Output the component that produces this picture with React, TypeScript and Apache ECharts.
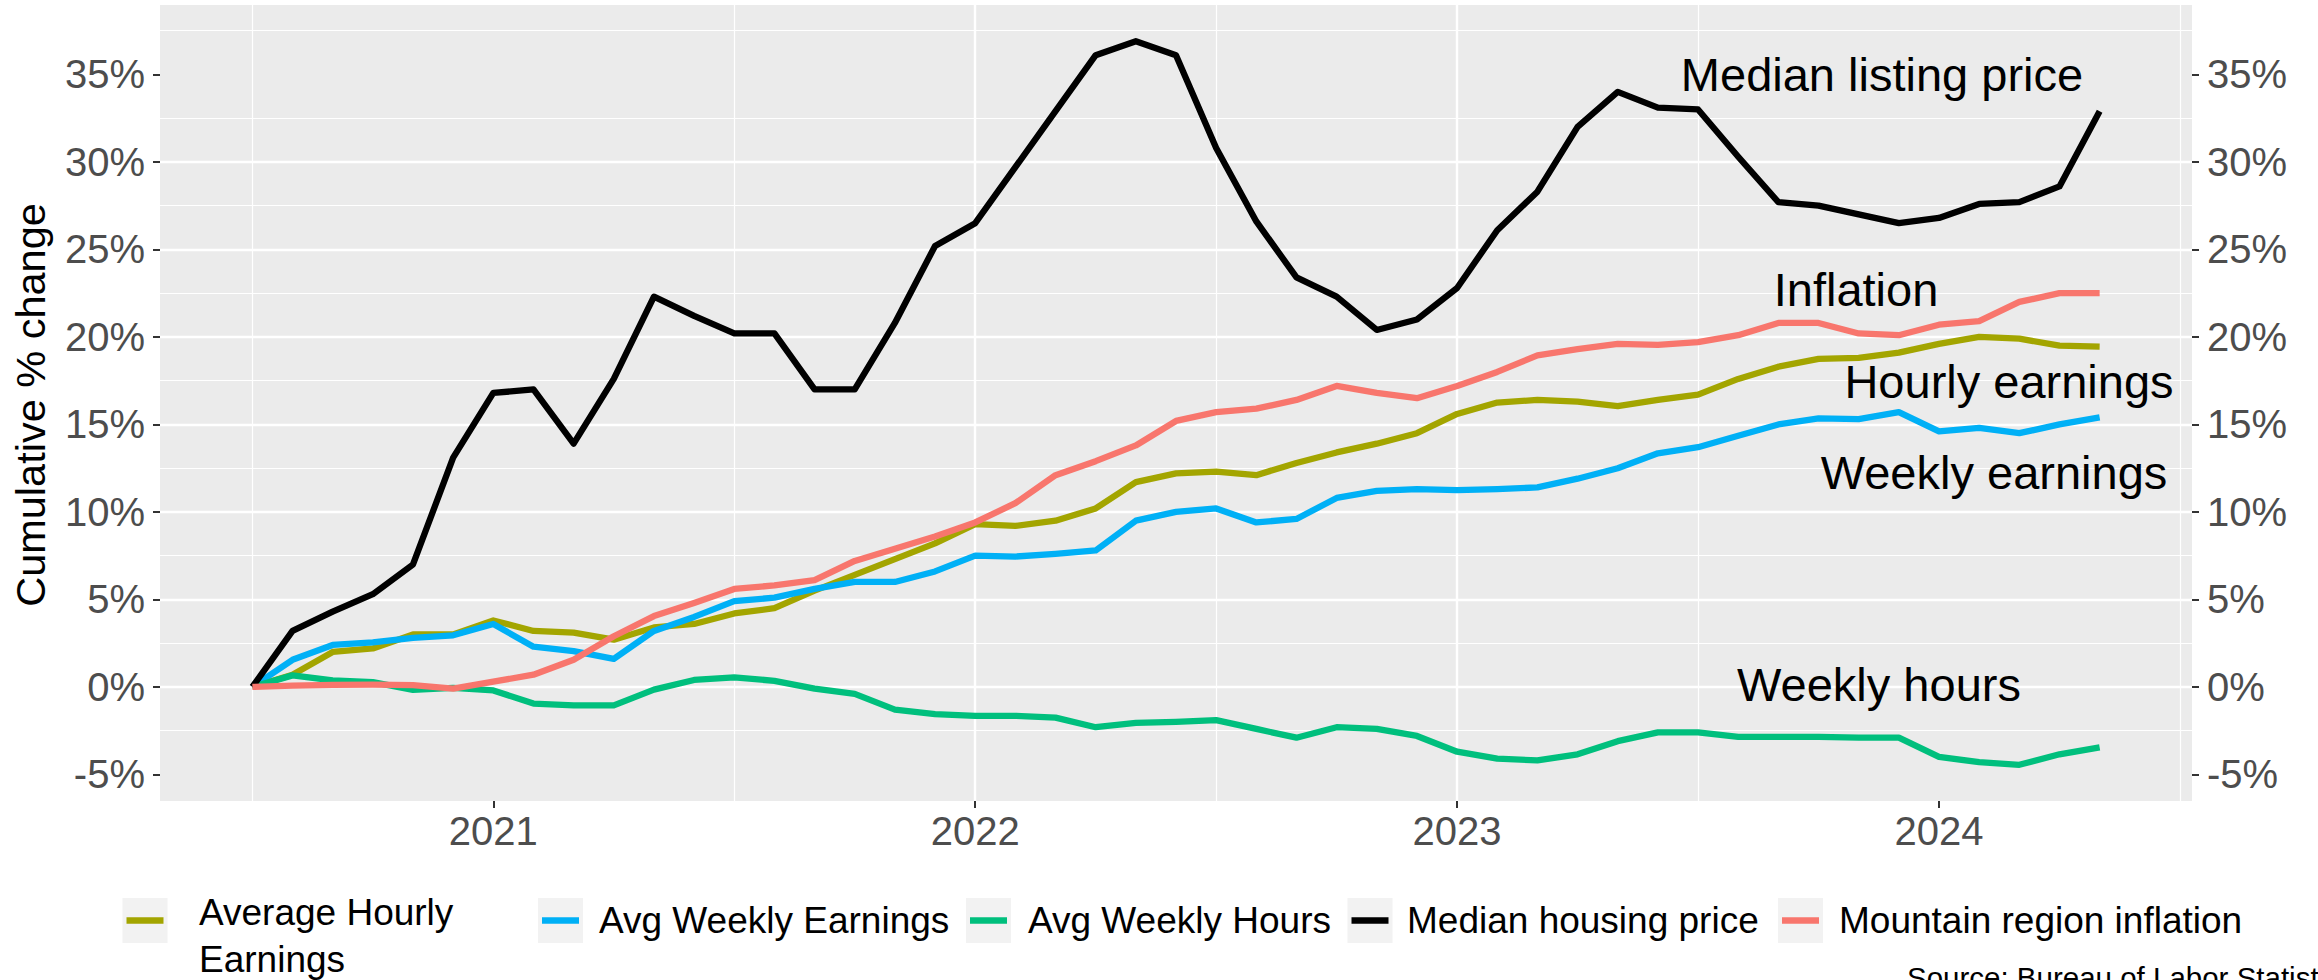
import React, { useEffect, useRef } from "react";
import * as echarts from "echarts";

// ---------- DATA ----------
const months: string[] = [
  "2020-07", "2020-08", "2020-09", "2020-10", "2020-11", "2020-12",
  "2021-01", "2021-02", "2021-03", "2021-04", "2021-05", "2021-06",
  "2021-07", "2021-08", "2021-09", "2021-10", "2021-11", "2021-12",
  "2022-01", "2022-02", "2022-03", "2022-04", "2022-05", "2022-06",
  "2022-07", "2022-08", "2022-09", "2022-10", "2022-11", "2022-12",
  "2023-01", "2023-02", "2023-03", "2023-04", "2023-05", "2023-06",
  "2023-07", "2023-08", "2023-09", "2023-10", "2023-11", "2023-12",
  "2024-01", "2024-02", "2024-03", "2024-04", "2024-05",
];

const hourlyEarnings: number[] = [
  0, 0.7, 2.0, 2.2, 3.0, 3.0, 3.8, 3.2, 3.1, 2.7, 3.4, 3.6,
  4.2, 4.5, 5.5, 6.4, 7.3, 8.2, 9.3, 9.2, 9.5, 10.2, 11.7, 12.2,
  12.3, 12.1, 12.8, 13.4, 13.9, 14.5, 15.6, 16.25, 16.4, 16.3, 16.05, 16.4,
  16.7, 17.6, 18.3, 18.75, 18.8, 19.1, 19.6, 20.0, 19.9, 19.5, 19.45,
];

const weeklyEarnings: number[] = [
  0, 1.55, 2.4, 2.55, 2.8, 2.95, 3.6, 2.3, 2.05, 1.6, 3.2, 4.0,
  4.9, 5.1, 5.6, 6.0, 6.0, 6.6, 7.5, 7.45, 7.6, 7.8, 9.5, 10.0,
  10.2, 9.4, 9.6, 10.8, 11.2, 11.3, 11.25, 11.3, 11.4, 11.9, 12.5, 13.35,
  13.7, 14.35, 15.0, 15.35, 15.3, 15.7, 14.6, 14.8, 14.5, 15.0, 15.4,
];

const weeklyHours: number[] = [
  0, 0.66, 0.37, 0.27, -0.17, -0.05, -0.2, -0.95, -1.05, -1.05, -0.15, 0.4,
  0.55, 0.35, -0.1, -0.4, -1.3, -1.55, -1.65, -1.65, -1.75, -2.3, -2.05, -2.0,
  -1.9, -2.4, -2.9, -2.3, -2.4, -2.8, -3.7, -4.1, -4.2, -3.85, -3.1, -2.6,
  -2.6, -2.85, -2.85, -2.85, -2.9, -2.9, -4.0, -4.3, -4.45, -3.85, -3.45,
];

const housingPrice: number[] = [
  0, 3.2, 4.3, 5.3, 7.0, 13.1, 16.8, 17.0, 13.9, 17.6, 22.3, 21.2,
  20.2, 20.2, 17.0, 17.0, 20.8, 25.2, 26.5, 29.7, 32.9, 36.1, 36.9, 36.1,
  30.8, 26.6, 23.4, 22.3, 20.4, 21.0, 22.8, 26.1, 28.3, 32.0, 34.0, 33.1,
  33.0, 30.3, 27.7, 27.5, 27.0, 26.5, 26.8, 27.6, 27.7, 28.6, 32.9,
];

const inflation: number[] = [
  0, 0.08, 0.12, 0.13, 0.1, -0.1, 0.3, 0.7, 1.55, 2.9, 4.05, 4.8,
  5.6, 5.8, 6.1, 7.2, 7.9, 8.6, 9.4, 10.5, 12.1, 12.9, 13.8, 15.2,
  15.7, 15.9, 16.4, 17.2, 16.8, 16.5, 17.2, 18.0, 18.95, 19.3, 19.6, 19.55,
  19.7, 20.1, 20.8, 20.8, 20.2, 20.1, 20.7, 20.9, 22.0, 22.5, 22.5,
];

const seriesNames: string[] = [
  "Average Hourly Earnings",
  "Avg Weekly Earnings",
  "Avg Weekly Hours",
  "Median housing price",
  "Mountain region inflation",
];
const legendLabels: string[] = [
  "Average Hourly\nEarnings",
  "Avg Weekly Earnings",
  "Avg Weekly Hours",
  "Median housing price",
  "Mountain region inflation",
];
const seriesValues: number[][] = [hourlyEarnings, weeklyEarnings, weeklyHours, housingPrice, inflation];

const yTicks: number[] = [-5, 0, 5, 10, 15, 20, 25, 30, 35];
const xTicks: number[] = [2021, 2022, 2023, 2024];

const annotationTexts: string[] = [
  "Median listing price",
  "Inflation",
  "Hourly earnings",
  "Weekly earnings",
  "Weekly hours",
];
const yTitle = "Cumulative % change";
const caption = "Source: Bureau of Labor Statistics";

// ---------- STYLE / LAYOUT ----------
const COLORS = ["#A3A500", "#00B0F6", "#00BF7D", "#000000", "#F8766D"];
const FONT = '"Liberation Sans", Arial, Helvetica, sans-serif';
const LINE_W = 6.3;
const annotationPos: [number, number][] = [
  [1882, 74],
  [1856, 289],
  [2009, 381],
  [1994, 472],
  [1879, 684],
];
const legendKeyX = [122.5, 538, 966, 1347.5, 1778];
const legendTextX = [199, 599, 1028, 1407, 1839];

function toX(m: string): number {
  const [y, mo] = m.split("-").map(Number);
  return y + (mo - 1) / 12;
}

export default function App() {
  const ref = useRef<HTMLDivElement>(null);

  useEffect(() => {
    if (!ref.current) return;
    const chart = echarts.init(ref.current, undefined, { renderer: "svg" });

    const xs = months.map(toX);
    const all = seriesValues.flat();
    const yMin0 = Math.min(...all);
    const yMax0 = Math.max(...all);
    const yPad = (yMax0 - yMin0) * 0.05;
    const xPad = (xs[xs.length - 1] - xs[0]) * 0.05;
    const xMin = xs[0] - xPad;
    const xMax = xs[xs.length - 1] + xPad;
    const yMin = yMin0 - yPad;
    const yMax = yMax0 + yPad;

    const tickLabel = { color: "#4D4D4D", fontSize: 40, fontFamily: FONT };

    const yAxisCommon = {
      type: "value" as const,
      min: yMin,
      max: yMax,
      minInterval: 5,
      maxInterval: 5,
      axisLine: { show: false, onZero: false },
      axisTick: { show: true, length: 7, lineStyle: { color: "#333333", width: 2 }, customValues: yTicks },
      axisLabel: { ...tickLabel, margin: 15, customValues: yTicks, formatter: (v: number) => `${Math.round(v)}%` },
    };

    const graphics: any[] = [];
    // y-axis title
    graphics.push({
      type: "text",
      z: 100,
      x: 30.5,
      y: 405,
      rotation: Math.PI / 2,
      style: { text: yTitle, font: `41.5px ${FONT}`, fill: "#000", align: "center", verticalAlign: "middle" },
    });
    // annotations
    annotationTexts.forEach((t, i) => {
      graphics.push({
        type: "text",
        z: 100,
        x: annotationPos[i][0],
        y: annotationPos[i][1],
        style: { text: t, font: `47px ${FONT}`, fill: "#000", align: "center", verticalAlign: "middle" },
      });
    });
    // legend
    legendLabels.forEach((lab, i) => {
      const kx = legendKeyX[i];
      graphics.push({ type: "rect", z: 100, shape: { x: kx, y: 898, width: 45, height: 45 }, style: { fill: "#F2F2F2" } });
      graphics.push({
        type: "line",
        z: 101,
        shape: { x1: kx + 4, y1: 920.5, x2: kx + 41, y2: 920.5 },
        style: { stroke: COLORS[i], lineWidth: LINE_W },
      });
      const multi = lab.includes("\n");
      graphics.push({
        type: "text",
        z: 100,
        x: legendTextX[i],
        y: multi ? 889.5 : 920.5,
        style: {
          text: lab,
          font: `37px ${FONT}`,
          fill: "#000",
          align: "left",
          verticalAlign: multi ? "top" : "middle",
          lineHeight: 46.5,
        },
      });
    });
    // caption (cut off at the page edge, as in the original)
    graphics.push({
      type: "text",
      z: 100,
      x: 1907,
      y: 977.5,
      style: { text: caption, font: `29.5px ${FONT}`, fill: "#000", align: "left", verticalAlign: "middle" },
    });

    chart.setOption({
      animation: false,
      backgroundColor: "#FFFFFF",
      grid: {
        left: 160,
        right: 126,
        top: 5,
        bottom: 179,
        show: true,
        backgroundColor: "#EBEBEB",
        borderWidth: 0,
        containLabel: false,
      },
      xAxis: {
        type: "value",
        min: xMin,
        max: xMax,
        minInterval: 1,
        maxInterval: 1,
        axisLine: { show: false, onZero: false },
        axisTick: { show: true, length: 7, lineStyle: { color: "#333333", width: 2 }, customValues: xTicks },
        axisLabel: { ...tickLabel, margin: 10, customValues: xTicks, formatter: (v: number) => String(Math.round(v)) },
        splitLine: { show: true, showMinLine: false, showMaxLine: false, lineStyle: { color: "#FFFFFF", width: 2.4 } },
        minorTick: { show: false, splitNumber: 2 },
        minorSplitLine: { show: true, lineStyle: { color: "#FFFFFF", width: 1.2 } },
      },
      yAxis: [
        {
          ...yAxisCommon,
          position: "left",
          splitLine: { show: true, showMinLine: false, showMaxLine: false, lineStyle: { color: "#FFFFFF", width: 2.4 } },
          minorTick: { show: false, splitNumber: 2 },
          minorSplitLine: { show: true, lineStyle: { color: "#FFFFFF", width: 1.2 } },
        },
        {
          ...yAxisCommon,
          position: "right",
          splitLine: { show: false },
          minorSplitLine: { show: false },
        },
      ],
      series: seriesNames.map((name, i) => ({
        name,
        type: "line",
        yAxisIndex: 0,
        showSymbol: false,
        symbol: "none",
        lineStyle: { color: COLORS[i], width: LINE_W, join: "round", cap: "butt" },
        itemStyle: { color: COLORS[i] },
        emphasis: { disabled: true },
        data: seriesValues[i].map((v, j) => [xs[j], v]),
      })),
      graphic: graphics,
    });

    return () => chart.dispose();
  }, []);

  return (
    <div
      ref={ref}
      style={{ position: "fixed", left: 0, top: 0, width: 2318, height: 980, background: "#fff" }}
    />
  );
}
